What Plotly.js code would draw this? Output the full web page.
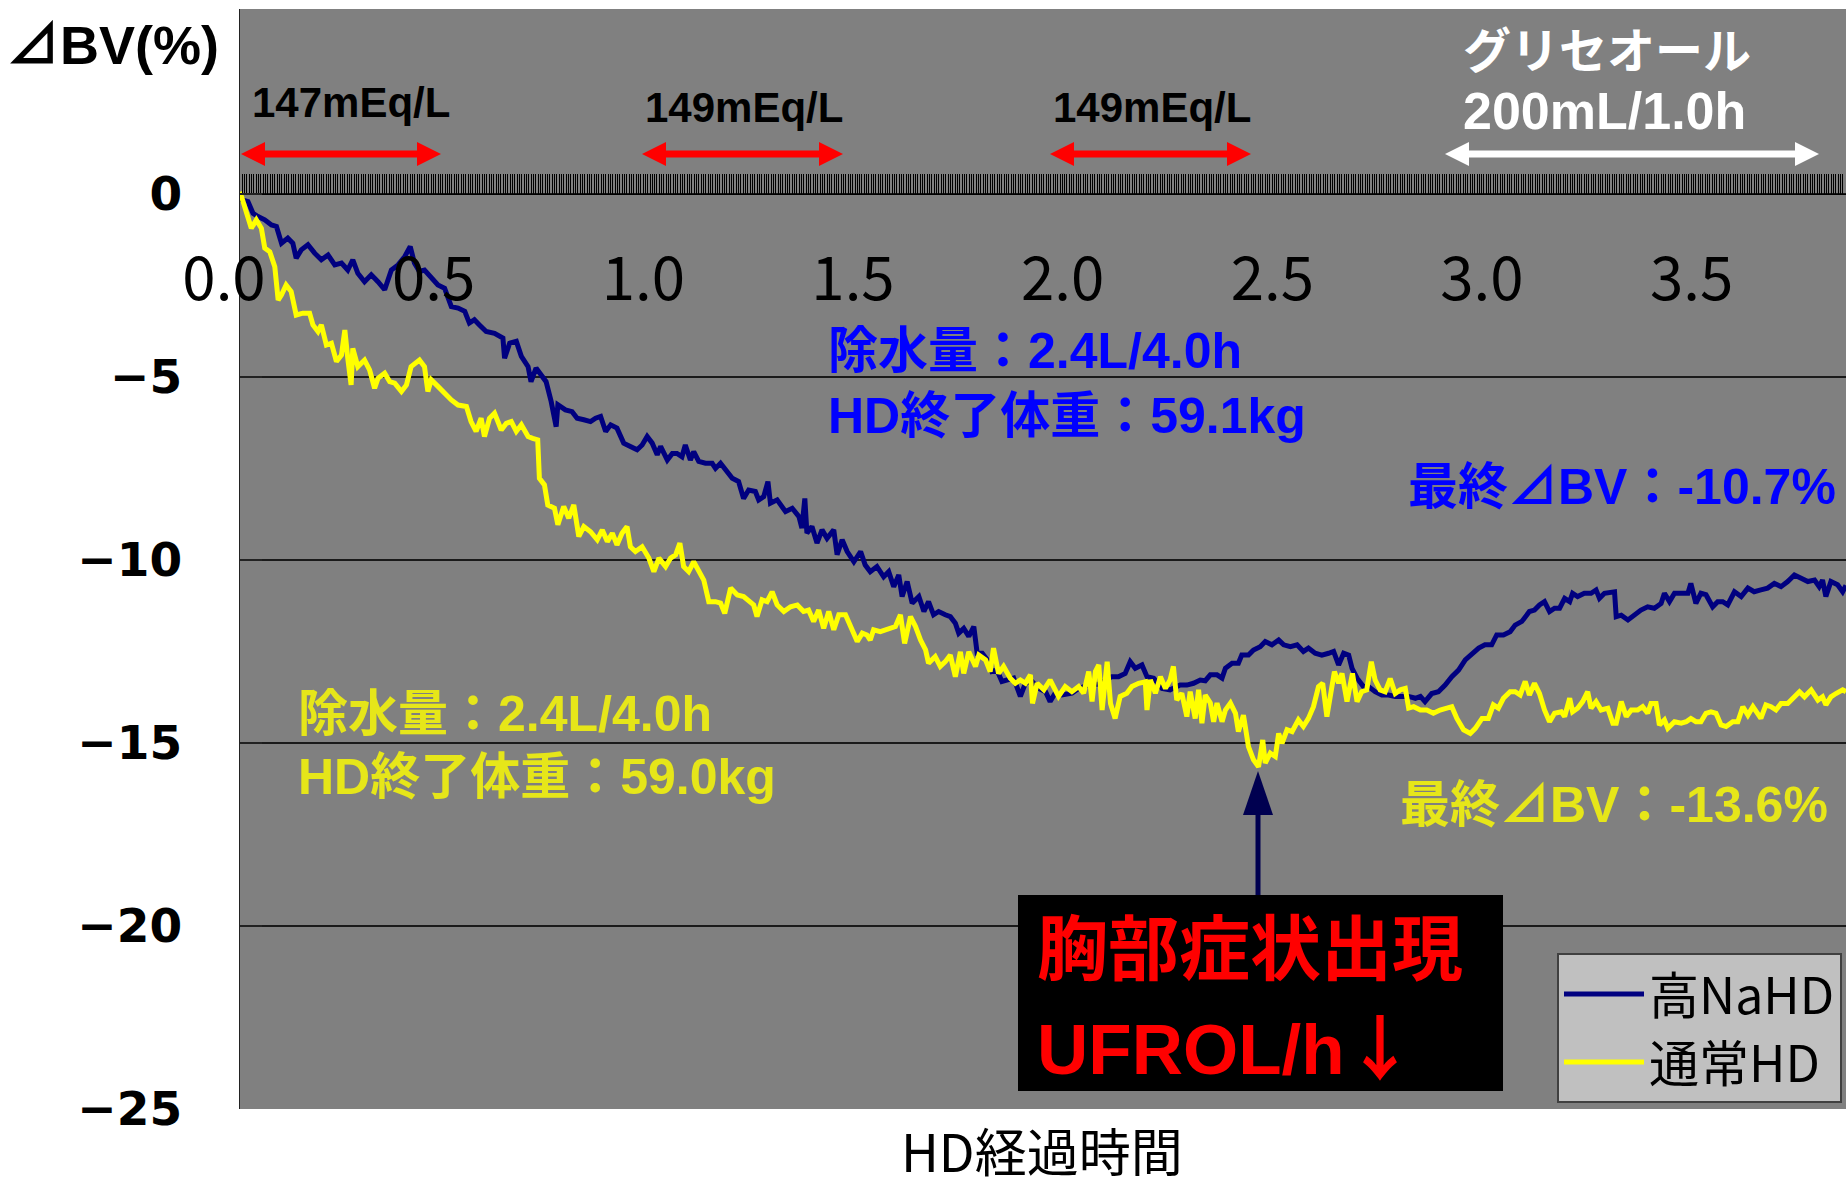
<!DOCTYPE html>
<html>
<head>
<meta charset="utf-8">
<script src="https://cdn.plot.ly/plotly-3.0.1.min.js"></script>
<style>html,body{margin:0;padding:0;background:#fff;}#chart{width:1846px;height:1189px;}</style>
</head>
<body>
<div id="chart"></div>
<script>
// ---- data (hours of HD, ΔBV %) ----
const timeHigh = [
0.000,0.003,0.019,0.031,0.043,0.059,0.075,0.087,0.099,0.114,
0.126,0.134,0.146,0.162,0.178,0.194,0.210,0.226,0.242,0.257,
0.269,0.281,0.297,0.313,0.329,0.345,0.361,0.377,0.393,0.406,
0.416,0.428,0.440,0.456,0.472,0.488,0.504,0.520,0.536,0.547,
0.559,0.571,0.587,0.607,0.627,0.631,0.643,0.659,0.671,0.687,
0.694,0.706,0.718,0.730,0.742,0.754,0.758,0.776,0.792,0.804,
0.820,0.836,0.848,0.860,0.872,0.884,0.899,0.915,0.931,0.947,
0.959,0.971,0.983,0.995,1.003,1.019,1.031,1.042,1.054,1.062,
1.074,1.082,1.094,1.110,1.126,1.134,1.146,1.158,1.174,1.189,
1.201,1.213,1.229,1.237,1.249,1.259,1.265,1.281,1.301,1.317,
1.333,1.340,1.347,1.352,1.364,1.376,1.388,1.400,1.416,1.424,
1.436,1.448,1.464,1.480,1.491,1.503,1.519,1.535,1.547,1.559,
1.571,1.579,1.591,1.603,1.619,1.631,1.642,1.654,1.666,1.682,
1.694,1.706,1.714,1.726,1.738,1.750,1.758,1.770,1.782,1.793,
1.805,1.817,1.833,1.845,1.861,1.873,1.889,1.905,1.921,1.932,
1.944,1.960,1.984,2.000,2.016,2.032,2.048,2.064,2.079,2.095,
2.111,2.123,2.135,2.151,2.163,2.179,2.199,2.218,2.242,2.258,
2.274,2.290,2.302,2.314,2.330,2.342,2.350,2.366,2.381,2.389,
2.405,2.417,2.433,2.445,2.461,2.477,2.489,2.505,2.521,2.536,
2.548,2.564,2.580,2.596,2.608,2.620,2.632,2.644,2.652,2.664,
2.679,2.691,2.707,2.723,2.739,2.755,2.771,2.787,2.803,2.815,
2.826,2.842,2.858,2.874,2.890,2.906,2.922,2.938,2.954,2.969,
2.985,2.997,3.013,3.029,3.041,3.057,3.075,3.087,3.099,3.111,
3.123,3.135,3.147,3.159,3.171,3.178,3.190,3.206,3.222,3.234,
3.242,3.254,3.270,3.278,3.282,3.294,3.310,3.325,3.341,3.357,
3.373,3.389,3.397,3.409,3.421,3.437,3.453,3.460,3.472,3.484,
3.496,3.512,3.524,3.536,3.548,3.564,3.580,3.596,3.611,3.627,
3.643,3.659,3.675,3.691,3.707,3.723,3.739,3.755,3.766,3.774,
3.782,3.794,3.810,3.822,3.830
];
const bvHigh = [
0.05,-0.16,-0.21,-0.53,-0.62,-0.71,-0.85,-0.89,-1.35,-1.21,
-1.35,-1.76,-1.53,-1.39,-1.62,-1.80,-1.67,-1.94,-1.89,-2.08,
-1.80,-2.17,-2.40,-2.21,-2.40,-2.62,-2.08,-1.94,-1.71,-1.44,
-1.89,-2.12,-2.08,-2.30,-2.49,-2.58,-3.08,-3.12,-3.21,-3.53,
-3.44,-3.58,-3.76,-3.81,-3.94,-4.49,-4.08,-4.03,-4.44,-4.72,
-5.13,-4.76,-4.95,-5.13,-5.67,-6.36,-5.76,-5.90,-5.95,-6.13,
-6.17,-6.22,-6.13,-6.08,-6.49,-6.31,-6.40,-6.81,-6.90,-6.99,
-6.86,-6.63,-6.81,-7.13,-6.90,-7.27,-7.09,-7.09,-7.18,-6.86,
-7.27,-7.04,-7.31,-7.36,-7.36,-7.50,-7.36,-7.54,-7.77,-7.86,
-8.32,-8.09,-8.13,-8.36,-8.27,-7.86,-8.45,-8.36,-8.68,-8.59,
-8.82,-9.13,-8.32,-9.27,-9.09,-9.54,-9.18,-9.41,-9.18,-9.86,
-9.45,-9.77,-10.05,-9.77,-10.14,-10.32,-10.18,-10.46,-10.32,-10.73,
-10.41,-11.00,-10.59,-11.18,-11.00,-11.41,-11.14,-11.50,-11.41,-11.50,
-11.55,-11.73,-12.00,-11.87,-12.09,-11.82,-12.55,-12.55,-12.73,-13.05,
-13.01,-13.32,-13.28,-13.23,-13.73,-13.37,-13.32,-13.51,-13.60,-13.87,
-13.64,-13.69,-13.64,-13.51,-13.45,-13.40,-13.40,-13.30,-13.19,-13.19,
-13.10,-12.78,-12.96,-12.87,-13.19,-13.23,-13.51,-13.55,-13.42,-13.42,
-13.37,-13.28,-13.30,-13.14,-13.14,-13.23,-12.96,-12.82,-12.82,-12.60,
-12.60,-12.46,-12.37,-12.23,-12.32,-12.19,-12.32,-12.37,-12.32,-12.50,
-12.41,-12.55,-12.60,-12.55,-12.50,-12.87,-12.55,-12.60,-12.96,-13.23,
-13.46,-13.46,-13.60,-13.69,-13.69,-13.73,-13.73,-13.73,-13.78,-13.73,
-13.87,-13.65,-13.60,-13.42,-13.19,-13.01,-12.73,-12.55,-12.41,-12.32,
-12.32,-12.05,-12.05,-11.96,-11.78,-11.68,-11.41,-11.37,-11.23,-11.14,
-11.41,-11.32,-11.32,-11.05,-11.14,-10.91,-11.00,-10.91,-10.91,-10.82,
-11.05,-10.91,-10.87,-10.87,-11.55,-11.51,-11.64,-11.51,-11.37,-11.28,
-11.32,-11.19,-10.91,-11.14,-10.91,-10.91,-10.91,-10.64,-11.19,-10.91,
-10.95,-11.28,-11.14,-11.14,-11.23,-10.87,-11.00,-10.77,-10.87,-10.82,
-10.77,-10.64,-10.73,-10.59,-10.41,-10.50,-10.59,-10.55,-10.73,-10.55,
-11.00,-10.59,-10.68,-10.87,-10.70
];
const timeNormal = [
0.000,0.007,0.019,0.027,0.039,0.051,0.059,0.071,0.083,0.091,
0.099,0.110,0.122,0.134,0.150,0.166,0.174,0.186,0.194,0.206,
0.218,0.230,0.242,0.250,0.257,0.265,0.269,0.281,0.297,0.309,
0.321,0.329,0.345,0.357,0.369,0.385,0.397,0.408,0.428,0.440,
0.448,0.456,0.472,0.488,0.504,0.520,0.540,0.551,0.563,0.575,
0.583,0.595,0.607,0.623,0.635,0.647,0.659,0.671,0.687,0.698,
0.710,0.714,0.726,0.734,0.750,0.758,0.772,0.784,0.796,0.808,
0.820,0.836,0.852,0.864,0.876,0.888,0.899,0.911,0.923,0.931,
0.943,0.959,0.975,0.987,0.999,1.015,1.027,1.039,1.049,1.058,
1.070,1.082,1.094,1.106,1.118,1.134,1.146,1.156,1.170,1.186,
1.201,1.217,1.225,1.233,1.245,1.257,1.269,1.281,1.297,1.313,
1.329,1.344,1.356,1.368,1.380,1.392,1.404,1.416,1.428,1.444,
1.460,1.472,1.484,1.495,1.503,1.511,1.527,1.547,1.563,1.575,
1.585,1.599,1.611,1.623,1.635,1.642,1.658,1.670,1.682,1.694,
1.706,1.718,1.726,1.738,1.754,1.762,1.778,1.789,1.797,1.809,
1.821,1.837,1.849,1.861,1.873,1.885,1.890,1.901,1.917,1.932,
1.952,1.968,1.984,2.000,2.012,2.024,2.032,2.040,2.048,2.056,
2.068,2.076,2.087,2.099,2.115,2.127,2.143,2.159,2.163,2.171,
2.183,2.195,2.207,2.218,2.226,2.234,2.246,2.258,2.266,2.278,
2.286,2.294,2.302,2.314,2.322,2.330,2.342,2.350,2.362,2.374,
2.381,2.393,2.405,2.417,2.429,2.439,2.445,2.457,2.469,2.477,
2.485,2.497,2.509,2.524,2.536,2.548,2.560,2.572,2.582,2.592,
2.600,2.610,2.620,2.628,2.640,2.653,2.664,2.675,2.687,2.698,
2.707,2.719,2.731,2.743,2.755,2.767,2.779,2.787,2.799,2.815,
2.830,2.846,2.862,2.874,2.890,2.902,2.918,2.934,2.946,2.962,
2.977,2.989,3.001,3.013,3.029,3.041,3.053,3.065,3.075,3.087,
3.099,3.111,3.123,3.135,3.151,3.159,3.171,3.178,3.190,3.202,
3.214,3.222,3.234,3.246,3.262,3.274,3.282,3.294,3.306,3.318,
3.333,3.345,3.357,3.365,3.377,3.385,3.397,3.405,3.421,3.437,
3.449,3.460,3.472,3.484,3.496,3.508,3.520,3.532,3.544,3.560,
3.572,3.584,3.596,3.608,3.619,3.627,3.639,3.651,3.663,3.675,
3.691,3.707,3.719,3.731,3.747,3.763,3.774,3.782,3.794,3.806,
3.822,3.830
];
const bvNormal = [
0.06,-0.21,-0.57,-0.94,-0.71,-0.94,-1.48,-1.58,-1.99,-2.90,
-2.76,-2.49,-2.67,-3.31,-3.26,-3.26,-3.58,-3.76,-3.58,-4.13,
-4.08,-4.58,-4.40,-3.72,-4.49,-5.22,-4.22,-4.72,-4.54,-4.81,
-5.31,-5.04,-4.90,-5.13,-5.17,-5.40,-5.22,-4.72,-4.54,-4.72,
-5.40,-5.08,-5.26,-5.45,-5.63,-5.77,-5.81,-6.22,-6.49,-6.13,
-6.63,-6.13,-5.99,-6.45,-6.27,-6.22,-6.49,-6.31,-6.63,-6.68,
-6.72,-7.77,-7.95,-8.50,-8.59,-9.04,-8.54,-8.86,-8.50,-9.36,
-9.09,-9.23,-9.45,-9.18,-9.50,-9.27,-9.59,-9.27,-9.09,-9.64,
-9.77,-9.64,-9.95,-10.32,-9.95,-10.18,-9.95,-9.86,-9.54,-10.18,
-10.32,-10.05,-10.27,-10.55,-11.14,-11.14,-11.18,-11.46,-10.77,-10.96,
-11.00,-11.14,-11.23,-11.55,-11.09,-11.14,-10.87,-11.23,-11.41,-11.28,
-11.23,-11.41,-11.37,-11.68,-11.37,-11.87,-11.41,-11.91,-11.50,-11.50,
-11.96,-12.23,-12.00,-12.05,-12.19,-11.91,-11.96,-11.87,-11.82,-11.50,
-12.28,-11.55,-11.82,-12.19,-12.46,-12.82,-12.64,-12.91,-12.78,-12.60,
-13.19,-12.51,-13.10,-12.51,-12.91,-12.60,-12.73,-13.05,-12.41,-13.10,
-12.91,-13.23,-13.37,-13.28,-13.37,-13.14,-13.92,-13.37,-13.55,-13.28,
-13.73,-13.46,-13.60,-13.46,-13.64,-13.05,-13.87,-13.05,-12.87,-14.10,
-12.78,-13.92,-14.33,-13.73,-13.64,-13.46,-13.37,-13.33,-14.10,-13.28,
-13.64,-13.19,-13.51,-13.28,-12.91,-13.83,-13.64,-14.28,-13.60,-14.33,
-13.55,-14.46,-13.69,-13.91,-14.42,-13.91,-14.42,-14.10,-13.91,-14.19,
-14.69,-14.24,-15.10,-15.46,-15.65,-14.92,-15.55,-15.28,-15.37,-14.74,
-15.01,-14.64,-14.69,-14.37,-14.55,-14.33,-14.01,-13.46,-13.37,-14.28,
-13.65,-13.05,-13.37,-13.10,-13.87,-13.10,-13.87,-13.60,-13.55,-12.78,
-13.28,-13.55,-13.60,-13.24,-13.65,-13.55,-13.51,-14.05,-14.01,-14.10,
-14.10,-14.19,-14.10,-14.05,-14.01,-14.33,-14.64,-14.74,-14.60,-14.33,
-14.33,-13.96,-14.05,-13.78,-13.60,-13.60,-13.69,-13.32,-13.69,-13.37,
-13.65,-14.10,-14.42,-14.19,-14.15,-14.28,-13.78,-14.15,-14.05,-13.87,
-13.60,-14.05,-13.87,-14.10,-14.05,-14.46,-14.46,-13.87,-14.28,-14.10,
-14.10,-14.01,-14.19,-13.92,-13.92,-14.51,-14.37,-14.60,-14.42,-14.46,
-14.42,-14.33,-14.42,-14.42,-14.19,-14.15,-14.19,-14.51,-14.55,-14.42,
-14.42,-14.01,-14.24,-14.01,-14.19,-14.33,-13.96,-14.01,-14.10,-13.92,
-13.92,-13.74,-13.60,-13.74,-13.55,-13.83,-13.74,-13.96,-13.74,-13.65,
-13.55,-13.60
];
const seriesNames = ['高NaHD', '通常HD'];
const yTickVals = [-25, -20, -15, -10, -5, 0];
const yTickText = ['−25', '−20', '−15', '−10', '−5', '0'];

// ---- layout helpers (pixel -> paper) ----
const ML = 240, MT = 9, PW = 1606, PH = 1100;
const PX = x => (x - ML) / PW;
const PY = y => (MT + PH - y) / PH;
const JP = 'Liberation Sans, "Noto Sans CJK JP", sans-serif';
const CJK = '"Noto Sans CJK JP", sans-serif';

function txt(text, x, y, size, color, xanchor, extra) {
  return Object.assign({
    text: text, xref: 'paper', yref: 'paper', x: PX(x), y: PY(y),
    xanchor: xanchor || 'center', yanchor: 'middle', showarrow: false,
    font: {family: JP, size: size, color: color}
  }, extra || {});
}
function hArrow(x1, x2, y, color) {
  const hl = 24, hw = 12, lw = 7;
  return [
    {type: 'line', xref: 'paper', yref: 'paper', x0: PX(x1 + hl - 2), x1: PX(x2 - hl + 2), y0: PY(y), y1: PY(y), line: {color: color, width: lw}},
    {type: 'path', xref: 'paper', yref: 'paper', path: `M${PX(x1)},${PY(y)} L${PX(x1 + hl)},${PY(y - hw)} L${PX(x1 + hl)},${PY(y + hw)} Z`, fillcolor: color, line: {width: 0}},
    {type: 'path', xref: 'paper', yref: 'paper', path: `M${PX(x2)},${PY(y)} L${PX(x2 - hl)},${PY(y - hw)} L${PX(x2 - hl)},${PY(y + hw)} Z`, fillcolor: color, line: {width: 0}}
  ];
}

const traces = [
  {x: timeHigh, y: bvHigh, type: 'scatter', mode: 'lines', name: seriesNames[0], line: {color: '#000080', width: 5}},
  {x: timeNormal, y: bvNormal, type: 'scatter', mode: 'lines', name: seriesNames[1], line: {color: '#ffff00', width: 5}}
];

const shapes = [].concat(
  hArrow(241, 441, 154, '#ff0000'),
  hArrow(642, 843, 154, '#ff0000'),
  hArrow(1050, 1251, 154, '#ff0000'),
  hArrow(1445, 1819, 154, '#ffffff'),
  [
    {type: 'rect', xref: 'paper', yref: 'paper', x0: PX(1018), x1: PX(1503), y0: PY(1091), y1: PY(895), fillcolor: '#000000', line: {width: 0}},
    {type: 'line', xref: 'paper', yref: 'paper', x0: PX(1258), x1: PX(1258), y0: PY(895), y1: PY(808), line: {color: '#000050', width: 5}},
    {type: 'path', xref: 'paper', yref: 'paper', path: `M${PX(1258)},${PY(771)} L${PX(1243)},${PY(815)} L${PX(1273)},${PY(815)} Z`, fillcolor: '#000050', line: {width: 0}}
  ]
);

const annotations = [
  txt('<b>⊿BV(%)</b>', 112, 45, 54, '#000'),
  txt('<b>147mEq/L</b>', 351, 102, 42, '#000'),
  txt('<b>149mEq/L</b>', 744, 107, 42, '#000'),
  txt('<b>149mEq/L</b>', 1152, 107, 42, '#000'),
  txt('<b>グリセオール</b>', 1461, 51, 48, '#ffffff', 'left'),
  txt('<b>200mL/1.0h</b>', 1461, 111, 52, '#ffffff', 'left'),
  txt('<b>除水量：2.4L/4.0h</b>', 826, 351, 50, '#0000ff', 'left'),
  txt('<b>HD終了体重：59.1kg</b>', 826, 416, 50, '#0000ff', 'left'),
  txt('<b>最終⊿BV：-10.7%</b>', 1406, 487, 50, '#0000ff', 'left'),
  txt('<b>除水量：2.4L/4.0h</b>', 296, 714, 50, '#e6e619', 'left'),
  txt('<b>HD終了体重：59.0kg</b>', 296, 777, 50, '#e6e619', 'left'),
  txt('<b>最終⊿BV：-13.6%</b>', 1398, 805, 50, '#e6e619', 'left'),
  txt('<b>胸部症状出現</b>', 1035, 949, 71, '#ff0000', 'left'),
  txt('<b>UFROL/h<span style="font-family:\'Noto Sans CJK JP\'">↓</span></b>', 1035, 1043, 71, '#ff0000', 'left'),
  txt('HD経過時間', 1042, 1189, 52, '#000', 'center', {yanchor: 'bottom', font: {family: CJK, size: 52, color: '#000'}})
];

const layout = {
  width: 1846, height: 1189,
  margin: {l: ML, r: 0, t: MT, b: 1189 - MT - PH, pad: 0},
  paper_bgcolor: '#ffffff', plot_bgcolor: '#808080',
  showlegend: true,
  legend: {
    x: PX(1842), xanchor: 'right', y: PY(1103), yanchor: 'bottom',
    bgcolor: '#c0c0c0', bordercolor: '#404040', borderwidth: 2,
    font: {family: CJK, size: 50, color: '#000'},
    itemwidth: 80, tracegroupgap: 0
  },
  xaxis: {
    range: [0, 3.83], anchor: 'free', position: 25 / 30.05,
    showline: true, linecolor: '#000', linewidth: 1,
    ticks: 'inside', ticklen: 20, tickcolor: '#000', tickwidth: 1,
    tick0: 0, dtick: 0.5, tickformat: '.1f',
    tickfont: {family: CJK, size: 60, color: '#000'},
    ticklabelstandoff: 33, ticklabelshift: -16,
    minor: {dtick: 1 / 180, tick0: 0, ticks: 'inside', ticklen: 20, tickcolor: '#000', tickwidth: 1, showgrid: false},
    showgrid: false, zeroline: false, fixedrange: true
  },
  yaxis: {
    range: [-25, 5.05],
    tickvals: yTickVals, ticktext: yTickText,
    showgrid: true, gridcolor: '#1a1a1a', gridwidth: 1.5,
    showline: true, linecolor: '#222', linewidth: 1.5,
    ticks: 'inside', ticklen: 22, tickcolor: '#222', tickwidth: 1.5,
    tickfont: {family: 'DejaVu Sans, sans-serif', size: 47, color: '#000', weight: 'bold'},
    ticklabelstandoff: 47,
    zeroline: false, fixedrange: true
  },
  shapes: shapes,
  annotations: annotations
};

Plotly.newPlot('chart', traces, layout, {displayModeBar: false, staticPlot: true});
</script>
</body>
</html>
